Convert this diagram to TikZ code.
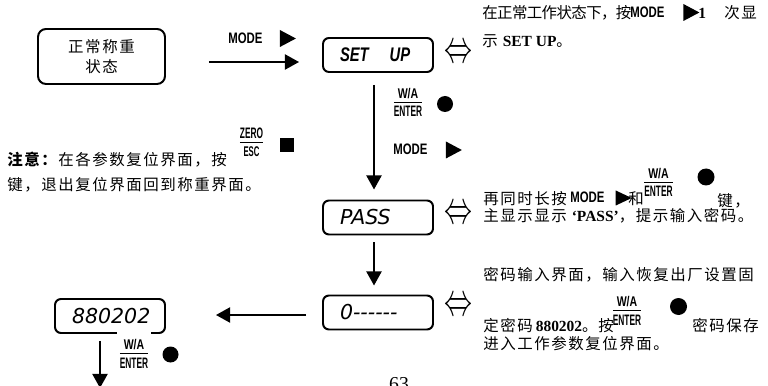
\documentclass[tikz,border=0pt]{standalone}
\usepackage{graphicx}
\usepackage{fontspec}
\setmainfont{Liberation Serif}
\newfontfamily\cjk[LetterSpace=10]{Noto Sans CJK SC}
\newfontfamily\cjktight[LetterSpace=-4]{Noto Sans CJK SC}
\newfontfamily\keyfont[FakeStretch=0.75]{Liberation Sans}
\newfontfamily\narrowkey[FakeStretch=0.55]{Liberation Sans}
\newfontfamily\lcdfont{DejaVu Sans}
\usetikzlibrary{arrows.meta,positioning,shapes.geometric}
\newlength{\px}
\setlength{\px}{0.025cm}
\newcommand{\lat}[1]{{\rmfamily\bfseries\fontsize{11}{13}\selectfont #1}}
\newcommand{\modekey}{{\keyfont\bfseries\fontsize{10.8}{11}\selectfont MODE}}
\newcommand{\wafont}{\keyfont\bfseries\fontsize{10}{10}\selectfont}
\newcommand{\enterfont}{\narrowkey\bfseries\fontsize{10.8}{11}\selectfont}
\newcommand{\keystack}[2]{{\renewcommand{\arraystretch}{0.6}\setlength{\arrayrulewidth}{1pt}%
  \begin{tabular}[b]{@{}c@{}}#1\\\hline\rule{0pt}{10pt}#2\end{tabular}}}
\newcommand{\bothways}{\resizebox{28\px}{17\px}{$\Leftrightarrow$}}

\begin{document}
\begin{tikzpicture}[
    x=0.025cm, y=-0.025cm,
    statebox/.style={draw, line width=1.4pt, rounded corners=8\px, minimum width=127\px, minimum height=55\px, inner sep=0pt, align=center, font=\cjk\fontsize{11}{14.2}\selectfont},
    lcdbox/.style={draw, line width=1.4pt, rounded corners=6\px, text width=76\px, inner xsep=17\px, inner ysep=0pt, minimum height=34\px, align=left, font=\lcdfont\itshape\fontsize{14.6}{15}\selectfont},
    equiv/.style={inner sep=0pt},
    note/.style={anchor=base west, inner sep=0pt, font=\cjk\fontsize{11}{13}\selectfont},
    key/.style={anchor=base west, inner sep=0pt},
    stack/.style={anchor=base, inner sep=0pt, font=\enterfont},
    tri/.style={isosceles triangle, isosceles triangle stretches, fill, inner sep=0pt, minimum width=17\px, minimum height=16\px},
    dot/.style={circle, fill, inner sep=0pt, minimum size=16\px},
    stopkey/.style={rectangle, fill, inner sep=0pt, minimum size=14\px},
    arrow/.style={-{Triangle[length=10pt, width=10.7pt]}, line width=1.4pt}
]
    \useasboundingbox (0,0) rectangle (768,386);

    % states and displays
    \node[statebox] (normal) at (101.5,56.5) {正常称重\\状态};
    \node[lcdbox] (setup) at (378,55) {{\keyfont\bfseries\itshape\fontsize{14}{14}\selectfont SET\hspace{21\px}UP}};
    \node[lcdbox] (pass) at (378,217.5) {PASS};
    \node[lcdbox] (entry) at (378,312.5) {0------};
    \node[lcdbox] (reset) at (110,316) {880202};

    \node[equiv, right=10\px of setup, yshift=1\px] (eq1) {\bothways};
    \node[equiv, right=10\px of pass, yshift=3\px] (eq2) {\bothways};
    \node[equiv, right=10\px of entry, yshift=6\px] (eq3) {\bothways};

    % keys
    \node[key] (mode1) at (228,43.5) {\modekey};
    \node[tri] (tri1) at (285,38.5) {};
    \node[stack] (enter1) at (408,117) {\keystack{\wafont W/A}{\enterfont ENTER}};
    \node[dot] (dot1) at (445,104) {};
    \node[key] (mode2) at (393,155) {\modekey};
    \node[tri] (tri2) at (451,150) {};
    \node[stack] (esc) at (251.5,157) {\keystack{\enterfont ZERO}{\narrowkey\bfseries\fontsize{10}{11}\selectfont ESC}};
    \node[stopkey] (stop) at (286.5,145) {};
    \node[stack, fill=white, inner xsep=3\px, inner ysep=8\px] (enter2) at (134,368) {\keystack{\wafont W/A}{\enterfont ENTER}};
    \node[dot] (dot2) at (170.5,354.5) {};

    % notes
    \node[note] (note1) at (7,166) {\textbf{注意：}在各参数复位界面，按};
    \node[note] (note2) at (7,191) {键，退出复位界面回到称重界面。};

    \node[note, font=\cjktight\fontsize{11}{13}\selectfont] (tip1) at (482,19) {在正常工作状态下，按};
    \node[key] (tip1mode) at (630,18) {\modekey};
    \node[tri] (tip1tri) at (688.5,12.5) {};
    \node[key] (tip1num) at (698,19) {\lat{1}};
    \node[note] (tip1end) at (724,19) {次显};
    \node[note] (tip2) at (482,47) {示\hspace{5\px}\lat{SET UP}。};

    \node[note] (tip3) at (483,205) {再同时长按};
    \node[key] (tip3mode) at (570,203) {\modekey};
    \node[tri, minimum width=15\px] (tip3tri) at (620.5,198) {};
    \node[note] (tip3and) at (628,205) {和};
    \node[stack] (tip3key) at (658.5,197) {\keystack{\wafont W/A}{\enterfont ENTER}};
    \node[dot, minimum size=17\px] (tip3dot) at (706,177) {};
    \node[note] (tip3end) at (717,207) {键，};
    \node[note] (tip4) at (483,222) {主显示显示\hspace{5\px}\lat{‘PASS’}，提示输入密码。};

    \node[note] (tip5) at (483,280) {密码输入界面，输入恢复出厂设置固};
    \node[note] (tip6) at (483,331) {定密码\hspace{3\px}\lat{880202}。};
    \node[note] (tip6press) at (598,331) {按};
    \node[stack] (tip6key) at (627,325) {\keystack{\wafont W/A}{\enterfont ENTER}};
    \node[dot, minimum size=17\px] (tip6dot) at (678.5,306.5) {};
    \node[note] (tip6end) at (692,331) {密码保存};
    \node[note] (tip7) at (483,349) {进入工作参数复位界面。};

    \node[anchor=base, inner sep=0pt, font=\fontsize{14}{14}\selectfont] (page) at (399,390) {63};

    % flow
    \draw[arrow, shorten <=43\px, shorten >=23\px] ([yshift=-5.5\px]normal.east) -- ([yshift=-5.5\px]normal.east -| setup.west);
    \draw[arrow, shorten <=12\px, shorten >=10\px] ([xshift=-4\px]setup.south) -- ([xshift=-4\px]pass.north);
    \draw[arrow, shorten <=7\px, shorten >=9\px] ([xshift=-4\px]pass.south) -- ([xshift=-4\px]entry.north);
    \draw[arrow, shorten <=16\px, shorten >=50\px] ([yshift=-2.5\px]entry.west) -- ([yshift=-2.5\px]entry.west -| reset.east);
    \coordinate (next) at (100,388);
    \draw[arrow, shorten <=7\px] ([xshift=-10\px]reset.south) -- (next);
\end{tikzpicture}
\end{document}
